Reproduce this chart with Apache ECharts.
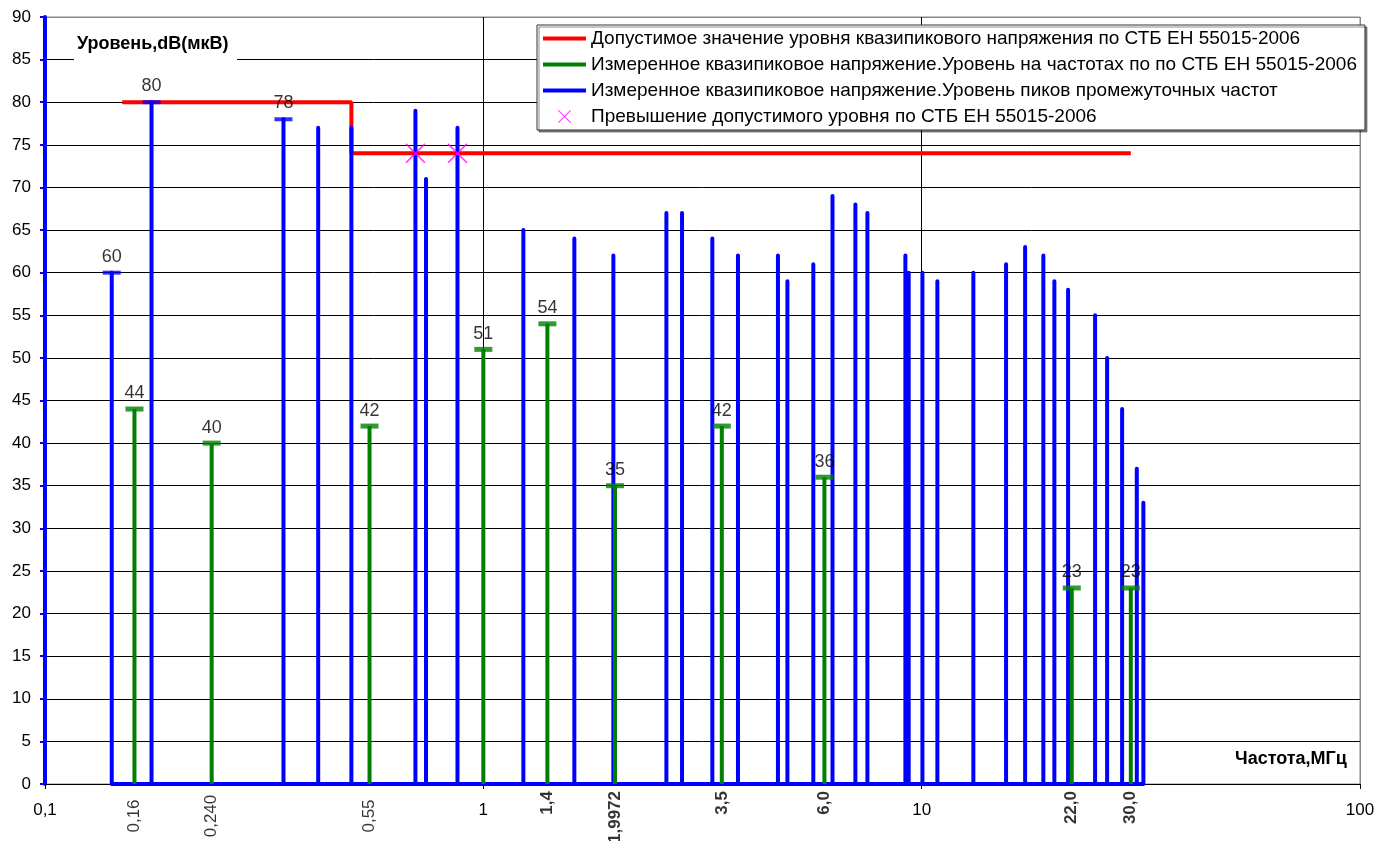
<!DOCTYPE html>
<html>
<head>
<meta charset="utf-8">
<script src="https://cdn.jsdelivr.net/npm/echarts@6/dist/echarts.min.js"></script>
<style>
  html, body { margin: 0; padding: 0; background: #fff; }
  #chart { width: 1379px; height: 841px; }
</style>
</head>
<body>
<div id="chart"></div>
<script>
// limit line (red)
var limitF = [0.15, 0.5, 0.5, 30];
var limitV = [80, 80, 74, 74];

// peaks at intermediate frequencies (blue)
var peakF = [0.142, 0.175, 0.35, 0.42, 0.5, 0.7, 0.74, 0.873, 1.234, 1.613, 1.98, 2.616, 2.84, 3.33, 3.81,
  4.70, 4.94, 5.66, 6.26, 7.06, 7.52, 9.18, 9.34, 10.04, 10.86, 13.12, 15.58, 17.22, 18.95, 20.08,
  21.58, 24.87, 26.49, 28.66, 30.96, 32.05];
var peakV = [60, 80, 78, 77, 77, 79, 71, 77, 65, 64, 62, 67, 67, 64, 62,
  62, 59, 61, 69, 68, 67, 62, 60, 60, 59, 60, 61, 63, 62, 59,
  58, 55, 50, 44, 37, 33];
// peaks marked with a cap and a value label
var peakCapIdx = [0, 1, 2];

// quasi-peak at standard frequencies (green)
var measF = [0.16, 0.24, 0.55, 1, 1.4, 1.9972, 3.5, 6.0, 22.0, 30.0];
var measV = [44, 40, 42, 51, 54, 35, 42, 36, 23, 23];

// exceedances (magenta)
var exceedF = [0.7, 0.873];
var exceedV = [74, 74];

// extra rotated frequency labels under the axis
var tickF = [0.16, 0.24, 0.55, 1.4, 1.9972, 3.5, 6.0, 22.0, 30.0];
var tickText = ['0,16', '0,240', '0,55', '1,4', '1,9972', '3,5', '6,0', '22,0', '30,0'];
var tickBold = [false, false, false, true, true, true, true, true, true];

var names = [
  'Допустимое значение уровня квазипикового напряжения по СТБ ЕН 55015-2006',
  'Измеренное квазипиковое напряжение.Уровень на частотах по по СТБ ЕН 55015-2006',
  'Измеренное квазипиковое напряжение.Уровень пиков промежуточных частот',
  'Превышение допустимого уровня по СТБ ЕН 55015-2006'
];

var FONT = '"Liberation Sans", Arial, sans-serif';
var BLUE = '#0000ff', GREEN = '#008000', RED = '#ff0000', MAGENTA = '#ff00ff';
var xPath = 'path://M0,1.1L1.1,0L20,18.9L18.9,20Z M18.9,0L20,1.1L1.1,20L0,18.9Z';

var limitData = limitF.map(function(f, i) { return [f, limitV[i]]; });
var blueData = [];
peakF.forEach(function(f, i) { blueData.push([f, 0], [f, peakV[i]], [f, 0]); });
var blueCaps = peakCapIdx.map(function(i) { return [peakF[i], peakV[i]]; });
var greenData = [];
measF.forEach(function(f, i) { greenData.push([f, 0], [f, measV[i]], '-'); });
var greenCaps = measF.map(function(f, i) { return [f, measV[i]]; });
var exceedData = exceedF.map(function(f, i) { return [f, exceedV[i]]; });

var tickData = tickF.map(function(f, i) {
  var bold = tickBold[i];
  return {
    value: [f, 0],
    label: bold ? {
      formatter: tickText[i], fontWeight: 'bold', align: 'right', verticalAlign: 'middle', position: [0, 7]
    } : {
      formatter: tickText[i], fontWeight: 'normal', align: 'center', verticalAlign: 'middle', position: [0, 32]
    }
  };
});

var yGridColors = [];
for (var k = 0; k <= 18; k++) yGridColors.push(k == 18 ? '#888' : '#000');

var dom = document.getElementById('chart');
var myChart = echarts.init(dom, null, { renderer: 'canvas' });

var option = {
  animation: false,
  backgroundColor: '#fff',
  textStyle: { fontFamily: FONT },
  grid: { left: 45, right: 19, top: 17, bottom: 57, show: true, borderColor: '#888', borderWidth: 1 },
  legend: {
    orient: 'vertical',
    left: 537, top: 25,
    padding: [4, 8, 4, 6],
    itemGap: 7,
    itemWidth: 43, itemHeight: 13,
    backgroundColor: '#fff',
    borderColor: '#333', borderWidth: 1,
    shadowColor: 'rgba(0,0,0,0.45)', shadowOffsetX: 2, shadowOffsetY: 2, shadowBlur: 0,
    textStyle: { fontSize: 19, lineHeight: 19, color: '#000', fontFamily: FONT },
    data: [
      { name: names[0], icon: 'path://M0,0h43v4h-43z' },
      { name: names[1], icon: 'path://M0,0h43v4h-43z' },
      { name: names[2], icon: 'path://M0,0h43v4h-43z' },
      { name: names[3], icon: xPath }
    ]
  },
  xAxis: {
    type: 'log', logBase: 10, min: 0.1, max: 100,
    axisLine: { lineStyle: { color: '#000', width: 1 } },
    axisTick: { show: true, length: 5, lineStyle: { color: '#000' } },
    minorTick: { show: false },
    splitLine: { show: true, lineStyle: { color: ['#888', '#000', '#000', '#888'], width: 1 } },
    axisLabel: {
      fontSize: 17, color: '#000', margin: 18, fontFamily: FONT,
      formatter: function(v) { return String(v).replace('.', ','); }
    }
  },
  yAxis: {
    type: 'value', min: 0, max: 90, interval: 5,
    axisLine: { show: true, lineStyle: { color: BLUE, width: 4 } },
    axisTick: { show: true, length: 5, lineStyle: { color: BLUE, width: 2 } },
    splitLine: { show: true, lineStyle: { color: yGridColors, width: 1 } },
    axisLabel: { fontSize: 17, color: '#000', margin: 14, fontFamily: FONT }
  },
  graphic: [
    { type: 'rect', z: 1, shape: { x: 74, y: 28, width: 163, height: 35 }, style: { fill: '#fff' } },
    { type: 'text', z: 2, left: 77, top: 35, style: { text: 'Уровень,dB(мкВ)', font: 'bold 18px ' + FONT, fill: '#000' } },
    { type: 'text', z: 2, left: 1235, top: 750, style: { text: 'Частота,МГц', font: 'bold 18px ' + FONT, fill: '#000' } }
  ],
  series: [
    {
      name: names[0], type: 'line', z: 3, data: limitData, symbol: 'none',
      lineStyle: { color: RED, width: 4 }, itemStyle: { color: RED }
    },
    {
      name: names[2], type: 'line', z: 4, data: blueData, symbol: 'none',
      lineStyle: { color: BLUE, width: 4, join: 'round' }, itemStyle: { color: BLUE }
    },
    {
      type: 'scatter', z: 5, data: blueCaps, symbol: 'rect', symbolSize: [18, 4],
      itemStyle: { color: BLUE },
      label: { show: true, position: 'top', distance: 5, fontSize: 18, color: '#000', fontFamily: FONT,
        formatter: function(p) { return p.value[1]; } }
    },
    {
      name: names[1], type: 'line', z: 6, data: greenData, symbol: 'none', connectNulls: false,
      lineStyle: { color: GREEN, width: 4 }, itemStyle: { color: GREEN }
    },
    {
      type: 'scatter', z: 7, data: greenCaps, symbol: 'rect', symbolSize: [18, 5],
      itemStyle: { color: GREEN },
      label: { show: true, position: 'top', distance: 4, fontSize: 18, color: '#000', fontFamily: FONT,
        formatter: function(p) { return p.value[1]; } }
    },
    {
      name: names[3], type: 'scatter', z: 8, data: exceedData, symbol: xPath, symbolSize: 20,
      itemStyle: { color: MAGENTA }
    },
    {
      type: 'scatter', z: 8, data: tickData, symbolSize: 0, silent: true,
      label: { show: true, rotate: 90, fontSize: 17, color: '#000', fontFamily: FONT }
    }
  ]
};

myChart.setOption(option);
</script>
</body>
</html>
